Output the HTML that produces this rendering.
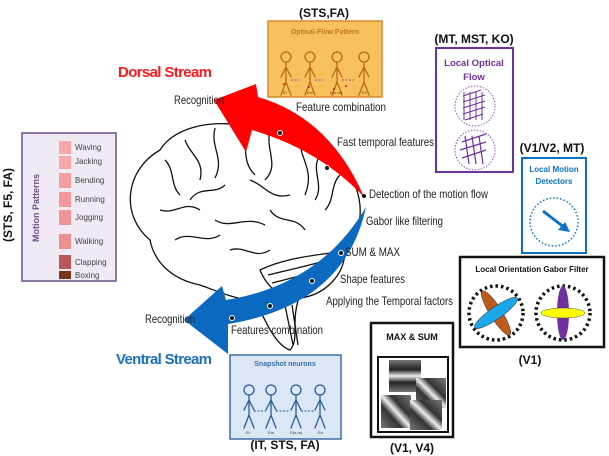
<!DOCTYPE html>
<html><head><meta charset="utf-8"><style>
html,body{margin:0;padding:0;background:#fff;}
svg{display:block;font-family:"Liberation Sans",sans-serif;}
.n{font-family:"Liberation Sans Narrow","Liberation Sans",sans-serif;font-size:12px;fill:#222;}
.b{font-weight:bold;font-size:12px;fill:#111;}
</style></head><body>
<svg width="609" height="456" viewBox="0 0 609 456">
<defs>
<linearGradient id="g1" x1="0" y1="0" x2="0" y2="1"><stop offset="0" stop-color="#777"/><stop offset=".3" stop-color="#222"/><stop offset=".5" stop-color="#eee"/><stop offset=".7" stop-color="#222"/><stop offset="1" stop-color="#777"/></linearGradient>
<linearGradient id="g2" x1="0" y1="1" x2="1" y2="0"><stop offset="0" stop-color="#777"/><stop offset=".35" stop-color="#333"/><stop offset=".5" stop-color="#eee"/><stop offset=".65" stop-color="#333"/><stop offset="1" stop-color="#777"/></linearGradient>
<g id="fig" stroke-width="1.3" fill="none" stroke-linecap="round">
<circle cx="0" cy="-20" r="5"/><path d="M0-15 V5 M0-10 L-5 0 M0-10 L5 0 M0 5 L-5 18 M0 5 L5 18"/>
</g>
</defs>

<!-- Motion patterns panel -->
<g>
<text transform="translate(12,205) rotate(-90)" text-anchor="middle" class="b">(STS, F5, FA)</text>
<rect x="22" y="133" width="94" height="148" fill="#efeaf4" stroke="#6b4f8e" stroke-width="1.5"/>
<text transform="translate(39,208) rotate(-90)" text-anchor="middle" font-size="9" font-weight="bold" fill="#6b4f8e">Motion Patterns</text>
<g font-size="8" fill="#444">
<rect x="59" y="141" width="12" height="13" fill="#f6a9a9"/><text x="75" y="150">Waving</text>
<rect x="59" y="156" width="12" height="13" fill="#f6a9a9"/><text x="75" y="164">Jacking</text>
<rect x="59" y="173" width="12" height="15" fill="#f4a0a0"/><text x="75" y="183">Bending</text>
<rect x="59" y="192" width="12" height="15" fill="#f29a9a"/><text x="75" y="202">Running</text>
<rect x="59" y="210" width="12" height="15" fill="#ef9595"/><text x="75" y="220">Jogging</text>
<rect x="59" y="234" width="12" height="15" fill="#ec9090"/><text x="75" y="244">Walking</text>
<rect x="59" y="255" width="12" height="14" fill="#b85858"/><text x="75" y="265">Clapping</text>
<rect x="59" y="271" width="12" height="8" fill="#7a3418"/><text x="75" y="278">Boxing</text>
</g>
</g>

<!-- Brain -->
<g fill="none" stroke="#111" stroke-width="1.3">
<path d="M150 240 C120 215 125 170 160 150 C175 125 220 118 250 128 C290 118 340 140 355 185 C365 210 360 235 345 250 C340 270 320 290 300 295 C290 320 300 340 290 350 C275 345 265 320 255 300 C235 300 215 290 200 285 C175 280 155 265 150 240 Z" fill="#fff"/>
<path d="M165 160 c10 10 5 25 15 35 M185 140 c5 15 20 20 15 40 M215 128 c-5 20 10 30 0 50 M240 130 c10 15 0 30 15 45 M270 130 c-5 20 10 35 -5 50 M300 140 c0 20 15 30 5 55 M320 155 c-10 15 5 30 -5 45 M340 175 c-10 10 -5 25 -15 35 M160 210 c15 5 25 -10 40 0 M175 240 c15 -10 30 5 45 -5 M215 220 c15 10 30 -5 50 5 M230 250 c15 -5 25 10 40 0 M270 210 c10 15 25 5 35 20 M250 180 c15 5 20 20 40 15 M190 200 c10 -15 25 -5 35 -15"/>
<path d="M260 270 C290 255 330 255 345 250 C345 275 325 295 300 298 C285 300 268 290 260 270 Z" fill="#fff"/>
<path d="M268 275 c20 -5 45 -10 70 -18 M272 283 c20 -5 40 -10 62 -18 M280 290 c18 -5 35 -8 48 -16 M290 296 c10 -5 20 -8 30 -12 M285 305 l8 40 M292 305 l6 40"/>
</g>

<!-- Red dorsal arrow -->
<path d="M364 197 Q330 118 258 97 L256 84 L214 100 L246 152 L252 130 Q320 150 364 197 Z" fill="#ff0000"/>
<circle cx="280" cy="133" r="2.5" fill="#111" stroke="#fff"/>
<circle cx="327" cy="168" r="2.5" fill="#111" stroke="#fff"/>
<circle cx="364" cy="196" r="2" fill="#111"/>
<text x="118" y="77" font-size="15" font-weight="bold" fill="#ff1a1a" textLength="94">Dorsal Stream</text>

<!-- Blue ventral arrow -->
<path d="M366 207 Q345 305 228 324 L228 354 L184 320 L222 286 L226 300 Q320 285 366 207 Z" fill="#0b6abf"/>
<circle cx="341" cy="253" r="2.5" fill="#111" stroke="#fff"/>
<circle cx="312" cy="281" r="2.5" fill="#111" stroke="#fff"/>
<circle cx="270" cy="306" r="2.5" fill="#111" stroke="#fff"/>
<circle cx="232" cy="318" r="2.5" fill="#111" stroke="#fff"/>
<text x="116" y="364" font-size="15" font-weight="bold" fill="#1a6fc0" textLength="96">Ventral Stream</text>

<!-- Stage labels -->
<g class="n">
<text x="174" y="104" textLength="50" lengthAdjust="spacingAndGlyphs">Recognition</text>
<text x="296" y="111" textLength="90" lengthAdjust="spacingAndGlyphs">Feature combination</text>
<text x="337" y="146" textLength="97" lengthAdjust="spacingAndGlyphs">Fast temporal features</text>
<text x="369" y="198" textLength="119" lengthAdjust="spacingAndGlyphs">Detection of the motion flow</text>
<text x="366" y="225" textLength="77" lengthAdjust="spacingAndGlyphs">Gabor like filtering</text>
<text x="345" y="256" textLength="55" lengthAdjust="spacingAndGlyphs">SUM &amp; MAX</text>
<text x="340" y="283" textLength="65" lengthAdjust="spacingAndGlyphs">Shape features</text>
<text x="326" y="305" textLength="127" lengthAdjust="spacingAndGlyphs">Applying the Temporal factors</text>
<text x="145" y="323" textLength="50" lengthAdjust="spacingAndGlyphs">Recognition</text>
<text x="231" y="334" textLength="92" lengthAdjust="spacingAndGlyphs">Features combination</text>
</g>

<!-- Optical flow pattern box -->
<g>
<text x="324" y="17" text-anchor="middle" class="b">(STS,FA)</text>
<rect x="268" y="21" width="114" height="76" fill="#f9c15e" stroke="#d9892a" stroke-width="1.5"/>
<text x="325" y="34" text-anchor="middle" font-size="7" font-weight="bold" fill="#c0781a">Optical-Flow Pattern</text>
<g stroke="#b86a10" transform="translate(286,77)"><use href="#fig"/></g>
<g stroke="#b86a10" transform="translate(310,77)"><use href="#fig"/></g>
<g stroke="#b86a10" transform="translate(337,77)"><use href="#fig"/></g>
<g stroke="#b86a10" transform="translate(364,77)"><use href="#fig"/></g>
<path d="M291 80 h8 M315 80 h8 M342 80 h12" stroke="#8a4a8a" stroke-dasharray="2 1.5"/>
<g fill="#d02020"><circle cx="284" cy="84" r="1"/><circle cx="309" cy="87" r="1"/><circle cx="334" cy="89" r="1"/><circle cx="346" cy="86" r="1"/></g>
<g font-size="4" fill="#6b3a00"><text x="283" y="94">Et</text><text x="307" y="94">Em</text><text x="330" y="94">E(n-m)</text><text x="362" y="94">En</text></g>
</g>

<!-- Local optical flow -->
<g>
<text x="474" y="43" text-anchor="middle" class="b">(MT, MST, KO)</text>
<rect x="436" y="48" width="77" height="124" fill="#fff" stroke="#7030a0" stroke-width="2"/>
<text x="474" y="66" text-anchor="middle" font-size="9.5" font-weight="bold" fill="#7030a0">Local Optical</text>
<text x="474" y="80" text-anchor="middle" font-size="9.5" font-weight="bold" fill="#7030a0">Flow</text>
<circle cx="475" cy="106" r="20" fill="none" stroke="#9050c0" stroke-dasharray="1.5 1.5"/>
<circle cx="475" cy="150" r="20" fill="none" stroke="#9050c0" stroke-dasharray="1.5 1.5"/>
<path d="M463 96 l18 -6 M463 102 l22 -7 M463 108 l22 -7 M463 114 l22 -7 M465 120 l18 -6 M464 92 v28 M470 92 v28 M476 92 v28 M482 92 v28" stroke="#7030a0" stroke-width="1"/>
<path d="M462 142 l24 -8 M460 150 l26 -8 M462 158 l24 -8 M465 136 l4 28 M472 136 l4 28 M479 136 l4 28" stroke="#7030a0" stroke-width="1.2"/>
</g>

<!-- Local motion detectors -->
<g>
<text x="552" y="152" text-anchor="middle" class="b">(V1/V2, MT)</text>
<rect x="522" y="158" width="64" height="95" fill="#fff" stroke="#0b72c4" stroke-width="2"/>
<text x="554" y="172" text-anchor="middle" font-size="8" font-weight="bold" fill="#0b72c4">Local Motion</text>
<text x="554" y="184" text-anchor="middle" font-size="8" font-weight="bold" fill="#0b72c4">Detectors</text>
<circle cx="554" cy="222" r="24" fill="none" stroke="#0b72c4" stroke-width="1.5" stroke-dasharray="1.5 2"/>
<path d="M543 211 L565 228" stroke="#0b72c4" stroke-width="3"/>
<path d="M570 232 L558 230 L565 222 Z" fill="#0b72c4"/>
</g>

<!-- Gabor filter box -->
<g>
<rect x="460" y="257" width="144" height="90" fill="#fff" stroke="#111" stroke-width="2.5"/>
<text x="532" y="272" text-anchor="middle" font-size="8" font-weight="bold" fill="#111">Local Orientation Gabor Filter</text>
<circle cx="496" cy="313" r="27" fill="none" stroke="#111" stroke-width="3.5" stroke-dasharray="2.5 3"/>
<circle cx="563" cy="313" r="27" fill="none" stroke="#111" stroke-width="3.5" stroke-dasharray="2.5 3"/>
<ellipse cx="496" cy="313" rx="26" ry="6" transform="rotate(58 496 313)" fill="#c05a1a" stroke="#333" stroke-width=".5"/>
<ellipse cx="496" cy="313" rx="26" ry="6" transform="rotate(-35 496 313)" fill="#1aa8ea" stroke="#333" stroke-width=".5"/>
<ellipse cx="563" cy="313" rx="6" ry="27" fill="#7030a0"/>
<ellipse cx="563" cy="313" rx="22" ry="5" fill="#ffff00" stroke="#555" stroke-width=".5"/>
<text x="530" y="364" text-anchor="middle" class="b">(V1)</text>
</g>

<!-- Max & Sum box -->
<g>
<rect x="371" y="323" width="82" height="114" fill="#fff" stroke="#111" stroke-width="2.5"/>
<text x="412" y="340" text-anchor="middle" font-size="9" font-weight="bold" fill="#111">MAX &amp; SUM</text>
<rect x="378" y="357" width="70" height="75" fill="#fff" stroke="#111" stroke-width="2"/>
<rect x="389" y="360" width="32" height="32" fill="url(#g1)"/>
<rect x="416" y="378" width="30" height="30" fill="url(#g2)"/>
<rect x="381" y="395" width="30" height="33" fill="url(#g2)"/>
<rect x="410" y="400" width="32" height="30" fill="url(#g2)"/>
<text x="412" y="452" text-anchor="middle" class="b">(V1, V4)</text>
</g>

<!-- Snapshot neurons -->
<g>
<rect x="230" y="355" width="111" height="84" fill="#dbe7f5" stroke="#3b6ea8" stroke-width="1.5"/>
<text x="285" y="366" text-anchor="middle" font-size="7" font-weight="bold" fill="#3b6ea8">Snapshot neurons</text>
<g stroke="#2a5b9a" transform="translate(249,410)"><use href="#fig"/></g>
<g stroke="#2a5b9a" transform="translate(271,410)"><use href="#fig"/></g>
<g stroke="#2a5b9a" transform="translate(296,410)"><use href="#fig"/></g>
<g stroke="#2a5b9a" transform="translate(320,410)"><use href="#fig"/></g>
<path d="M254 411 h12 M276 411 h14 M301 411 h14" stroke="#2a5b9a" stroke-dasharray="2 1.5"/>
<g font-size="4" fill="#234"><text x="246" y="434">Et</text><text x="268" y="434">Em</text><text x="290" y="434">E(n-m)</text><text x="318" y="434">En</text></g>
<text x="285" y="449" text-anchor="middle" class="b">(IT, STS, FA)</text>
</g>
</svg>
</body></html>
